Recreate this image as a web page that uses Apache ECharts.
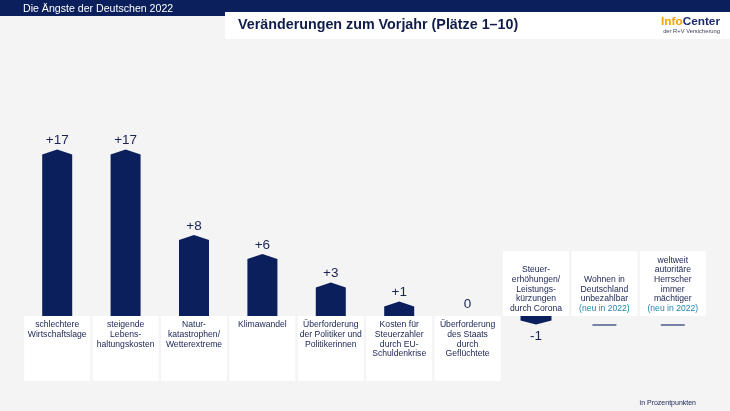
<!DOCTYPE html>
<html>
<head>
<meta charset="utf-8">
<script src="https://cdn.jsdelivr.net/npm/echarts@6/dist/echarts.min.js"></script>
<style>
html,body{margin:0;padding:0;background:#f4f4f4;}
#c{width:730px;height:411px;}
</style>
</head>
<body>
<div id="c"></div>
<script>
// ---- data ----
const categories = [
  "schlechtere\nWirtschaftslage",
  "steigende\nLebens-\nhaltungskosten",
  "Natur-\nkatastrophen/\nWetterextreme",
  "Klimawandel",
  "Überforderung\nder Politiker und\nPolitikerinnen",
  "Kosten für\nSteuerzahler\ndurch EU-\nSchuldenkrise",
  "Überforderung\ndes Staats\ndurch\nGeflüchtete",
  "Steuer-\nerhöhungen/\nLeistungs-\nkürzungen\ndurch Corona",
  "Wohnen in\nDeutschland\nunbezahlbar",
  "weltweit\nautoritäre\nHerrscher\nimmer\nmächtiger"
];
const changes = [17, 17, 8, 6, 3, 1, 0, -1, null, null];
const newNote = "(neu in 2022)";
const headerText = "Die Ängste der Deutschen 2022";
const titleText = "Veränderungen zum Vorjahr (Plätze 1–10)";
const unitText = "in Prozentpunkten";

// ---- style ----
const NAVY = "#0b1f5c";
const TEXT = "#1a2352";
const TEAL = "#1f87a6";
const FONT = "'Liberation Sans', Arial, sans-serif";

const chart = echarts.init(document.getElementById('c'), null, {renderer: 'canvas'});

function renderItem(params, api) {
  const i = api.value(0);
  const v = changes[i];
  const base = api.coord([i, 0]);
  const cx = base[0], by = base[1];
  const bw = api.size([1, 0])[0];
  const boxW = bw - 2.4;
  const boxH = 65;
  const children = [];
  const above = (v === null || v < 0);
  // category box
  const boxY = above ? by - boxH : by;
  children.push({type: 'rect', shape: {x: cx - boxW / 2, y: boxY, width: boxW, height: boxH},
    style: {fill: '#ffffff'}});
  let txt = categories[i];
  if (v === null) txt += "\n{t|" + newNote + "}";
  children.push({type: 'text', x: cx, y: above ? by - 2.5 : by + 4,
    style: {text: txt, fill: TEXT, fontSize: 8.6, fontFamily: FONT, lineHeight: 9.7,
      align: 'center', verticalAlign: above ? 'bottom' : 'top',
      rich: {t: {fill: TEAL, fontSize: 8.6, fontFamily: FONT, lineHeight: 9.7}}}});
  if (v === null) {
    children.push({type: 'line', shape: {x1: cx - 12, y1: by + 9, x2: cx + 12, y2: by + 9},
      style: {stroke: '#34447a', lineWidth: 1.3}});
  } else if (v > 0) {
    const ty = api.coord([i, v])[1];
    const hw = 15;
    children.push({type: 'polygon', shape: {points: [[cx - hw, by], [cx - hw, ty], [cx, ty - 5], [cx + hw, ty], [cx + hw, by]]},
      style: {fill: NAVY}});
    children.push({type: 'text', x: cx, y: ty - 14,
      style: {text: '+' + v, fill: TEXT, fontSize: 13.5, fontFamily: FONT, align: 'center', verticalAlign: 'middle'}});
  } else if (v < 0) {
    const ty = api.coord([i, v])[1];
    const hw = 15.5;
    children.push({type: 'polygon', shape: {points: [[cx - hw, by], [cx - hw, ty - 5], [cx, ty - 1], [cx + hw, ty - 5], [cx + hw, by]]},
      style: {fill: NAVY}});
    children.push({type: 'text', x: cx, y: ty + 11,
      style: {text: String(v), fill: TEXT, fontSize: 13.5, fontFamily: FONT, align: 'center', verticalAlign: 'middle'}});
  } else {
    children.push({type: 'text', x: cx, y: by - 12,
      style: {text: String(v), fill: TEXT, fontSize: 13.5, fontFamily: FONT, align: 'center', verticalAlign: 'middle'}});
  }
  return {type: 'group', children};
}

const option = {
  backgroundColor: '#f4f4f4',
  animation: false,
  grid: {left: 23, right: 23, top: 126, bottom: 28.5},
  xAxis: {type: 'category', data: categories.map((c, i) => i), show: false, boundaryGap: true},
  yAxis: {type: 'value', min: -7, max: 20, show: false},
  series: [{
    type: 'custom',
    renderItem: renderItem,
    data: categories.map((c, i) => [i, 0]),
    encode: {x: 0, y: 1},
    clip: false
  }],
  graphic: [
    {type: 'rect', shape: {x: 0, y: 0, width: 730, height: 16}, style: {fill: NAVY}},
    {type: 'text', x: 23, y: 9.5, style: {text: headerText, fill: '#ffffff', fontSize: 10.6, fontFamily: FONT, verticalAlign: 'middle'}},
    {type: 'rect', shape: {x: 225, y: 12, width: 505, height: 27}, style: {fill: '#ffffff'}},
    {type: 'text', x: 238, y: 25.5, style: {text: titleText, fill: '#111c4a', fontSize: 14.3, fontWeight: 'bold', fontFamily: FONT, verticalAlign: 'middle'}},
    {type: 'text', x: 720, y: 22, style: {text: '{a|Info}{b|Center}', align: 'right', verticalAlign: 'middle',
      rich: {a: {fill: '#f2a300', fontSize: 11.8, fontWeight: 'bold', fontFamily: FONT},
             b: {fill: '#1b2b6b', fontSize: 11.8, fontWeight: 'bold', fontFamily: FONT}}}},
    {type: 'text', x: 720, y: 31.5, style: {text: 'der R+V Versicherung', fill: '#3a3f5a', fontSize: 5.8, fontFamily: FONT, align: 'right', verticalAlign: 'middle'}},
    {type: 'text', x: 696, y: 403, style: {text: unitText, fill: TEXT, fontSize: 7, fontFamily: FONT, align: 'right', verticalAlign: 'middle'}}
  ]
};
chart.setOption(option);
</script>
</body>
</html>
